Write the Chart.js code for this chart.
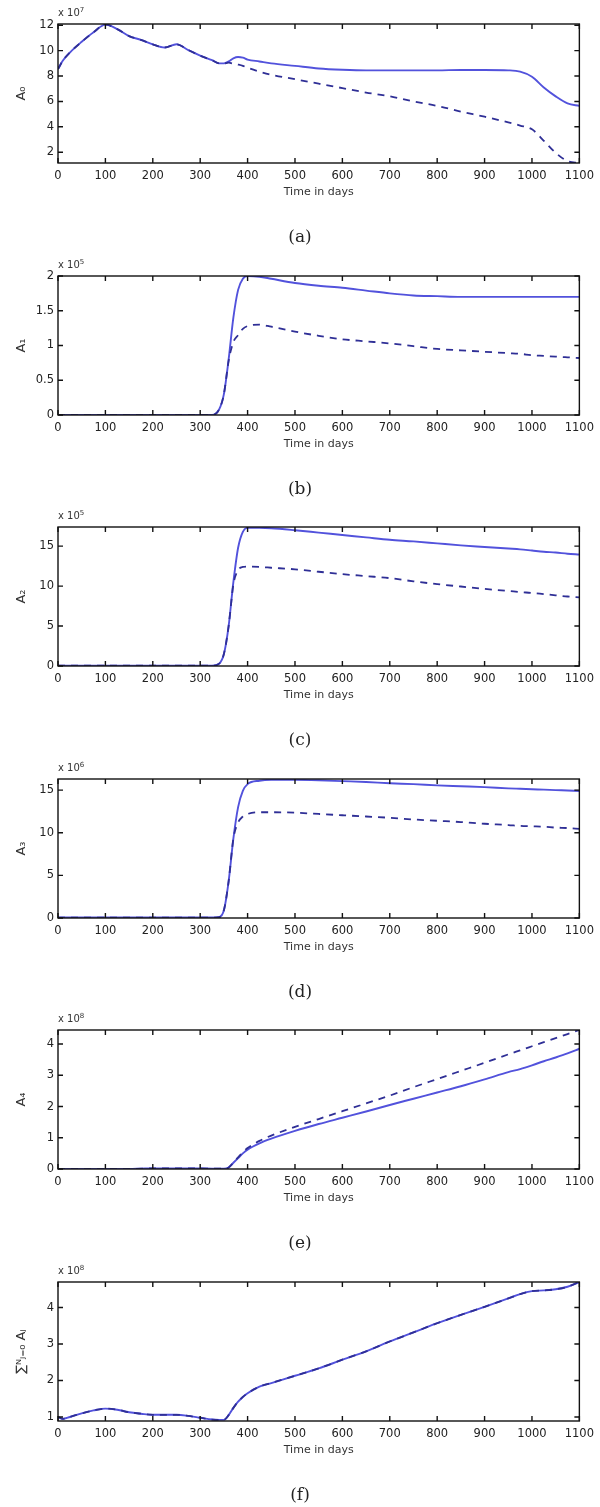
<!DOCTYPE html>
<html>
<head>
<meta charset="utf-8">
<script src="https://cdn.jsdelivr.net/npm/chart.js@4.4.1/dist/chart.umd.min.js"></script>
<style>
  body { margin: 0; background: #fff; }
  #page { position: relative; width: 600px; height: 1507px; overflow: hidden; font-family: "DejaVu Sans", sans-serif; }
  .panel { position: absolute; left: 0; width: 600px; height: 251px; }
  .panel canvas { position: absolute; left: 0; top: 0; }
  .exp { position: absolute; left: 58px; top: 6px; font-size: 10px; color: #333; }
  .exp sup { font-size: 7px; }
  .cap { position: absolute; left: 0; width: 600px; top: 226px; text-align: center;
         font-family: "DejaVu Serif", "Liberation Serif", serif; font-size: 17px; color: #222; }
</style>
</head>
<body>
<div id="page"></div>
<script>
// time axis (days), shared by every series
const days = [0,10,25,50,75,100,125,150,175,200,225,250,275,300,325,340,350,360,370,380,390,400,425,450,
  500,550,600,650,700,750,800,850,900,950,975,1000,1025,1050,1075,1100];
const xTicks = [0,100,200,300,400,500,600,700,800,900,1000,1100];

// (a) A0, x 10^7
const a0Solid = [8.55,9.2,9.85,10.7,11.45,12.05,11.7,11.15,10.85,10.5,10.25,10.5,10.05,9.6,9.25,9.0,9.0,9.15,9.4,9.5,9.45,9.3,9.15,9.0,
  8.8,8.6,8.5,8.45,8.45,8.45,8.45,8.48,8.48,8.45,8.35,7.95,7.1,6.4,5.85,5.65];
const a0Dashed = [8.55,9.2,9.85,10.7,11.45,12.05,11.7,11.15,10.85,10.5,10.25,10.5,10.05,9.6,9.25,9.0,9.0,9.05,8.98,8.9,8.8,8.65,8.35,8.1,
  7.75,7.4,7.05,6.7,6.4,6.0,5.65,5.2,4.8,4.35,4.1,3.8,2.9,1.95,1.3,1.15];
const a0Ticks = [2,4,6,8,10,12];

// (b) A1, x 10^5
const a1Solid = [0,0,0,0,0,0,0,0,0,0,0,0,0,0,0,0.08,0.3,0.8,1.4,1.8,1.96,2.0,1.99,1.96,
  1.9,1.86,1.83,1.79,1.75,1.72,1.71,1.7,1.7,1.7,1.7,1.7,1.7,1.7,1.7,1.7];
const a1Dashed = [0,0,0,0,0,0,0,0,0,0,0,0,0,0,0,0.08,0.3,0.78,1.05,1.15,1.24,1.28,1.3,1.27,
  1.2,1.14,1.09,1.06,1.03,0.99,0.95,0.93,0.91,0.89,0.88,0.86,0.85,0.84,0.83,0.82];
const a1Ticks = [0,0.5,1,1.5,2];

// (c) A2, x 10^5
const a2Solid = [0.05,0.05,0.05,0.05,0.05,0.05,0.05,0.05,0.05,0.05,0.05,0.05,0.05,0.05,0.05,0.3,1.5,5,10.5,14.8,16.8,17.3,17.3,17.25,
  17.0,16.7,16.4,16.1,15.8,15.6,15.35,15.1,14.9,14.7,14.6,14.45,14.3,14.2,14.05,13.95];
const a2Dashed = [0.05,0.05,0.05,0.05,0.05,0.05,0.05,0.05,0.05,0.05,0.05,0.05,0.05,0.05,0.05,0.3,1.5,5,10.2,12.0,12.4,12.45,12.4,12.3,
  12.1,11.8,11.5,11.25,11.0,10.6,10.25,9.95,9.65,9.4,9.25,9.15,9.0,8.85,8.7,8.6];
const a2Ticks = [0,5,10,15];

// (d) A3, x 10^6
const a3Solid = [0.05,0.05,0.05,0.05,0.05,0.05,0.05,0.05,0.05,0.05,0.05,0.05,0.05,0.05,0.05,0.1,0.9,4.3,9.3,13.0,14.9,15.7,16.1,16.2,
  16.2,16.15,16.05,15.95,15.8,15.7,15.55,15.45,15.35,15.2,15.15,15.1,15.05,15.0,14.95,14.9];
const a3Dashed = [0.05,0.05,0.05,0.05,0.05,0.05,0.05,0.05,0.05,0.05,0.05,0.05,0.05,0.05,0.05,0.1,0.9,4.3,9.3,11.2,11.9,12.2,12.4,12.4,
  12.35,12.2,12.05,11.9,11.75,11.55,11.4,11.25,11.05,10.9,10.8,10.75,10.7,10.6,10.55,10.45];
const a3Ticks = [0,5,10,15];

// (e) A4, x 10^8
const a4Solid = [0,0,0,0,0,0,0,0,0.01,0.02,0.02,0.02,0.02,0.02,0.01,0.01,0.01,0.05,0.2,0.35,0.5,0.62,0.82,0.97,
  1.22,1.44,1.64,1.84,2.05,2.25,2.45,2.65,2.87,3.1,3.2,3.32,3.45,3.57,3.7,3.85];
const a4Dashed = [0,0,0,0,0,0,0,0,0.01,0.02,0.02,0.02,0.02,0.02,0.01,0.01,0.01,0.05,0.2,0.37,0.53,0.67,0.9,1.07,
  1.35,1.6,1.85,2.1,2.35,2.62,2.88,3.14,3.4,3.67,3.8,3.93,4.06,4.19,4.32,4.45];
const a4Ticks = [0,1,2,3,4];

// (f) sum of A_j, x 10^8
const sumSolid = [1.0,0.95,1.0,1.1,1.18,1.23,1.2,1.13,1.09,1.06,1.06,1.06,1.03,0.98,0.93,0.92,0.92,1.05,1.25,1.42,1.55,1.65,1.83,1.93,
  2.13,2.33,2.57,2.8,3.07,3.32,3.57,3.8,4.02,4.25,4.37,4.45,4.47,4.5,4.57,4.7];
const sumDashed = [1.0,0.95,1.0,1.1,1.18,1.23,1.2,1.13,1.09,1.06,1.06,1.06,1.03,0.98,0.93,0.92,0.92,1.05,1.25,1.42,1.55,1.65,1.83,1.93,
  2.13,2.33,2.57,2.8,3.07,3.32,3.57,3.8,4.02,4.25,4.37,4.45,4.47,4.5,4.57,4.7];
const sumTicks = [1,2,3,4];

const panels = [
  {label: 'A₀', exp: '7', cap: '(a)', solid: a0Solid, dashed: a0Dashed, ticks: a0Ticks, min: 1.15, max: 12.1},
  {label: 'A₁', exp: '5', cap: '(b)', solid: a1Solid, dashed: a1Dashed, ticks: a1Ticks, min: 0, max: 2},
  {label: 'A₂', exp: '5', cap: '(c)', solid: a2Solid, dashed: a2Dashed, ticks: a2Ticks, min: 0, max: 17.4},
  {label: 'A₃', exp: '6', cap: '(d)', solid: a3Solid, dashed: a3Dashed, ticks: a3Ticks, min: 0, max: 16.3},
  {label: 'A₄', exp: '8', cap: '(e)', solid: a4Solid, dashed: a4Dashed, ticks: a4Ticks, min: 0, max: 4.45},
  {label: '∑ᴺⱼ₌₀ Aⱼ', exp: '8', cap: '(f)', solid: sumSolid, dashed: sumDashed, ticks: sumTicks, min: 0.89, max: 4.7}
];

// matlab-like box with inward ticks on all four sides
const boxPlugin = {
  id: 'box',
  afterDraw(chart) {
    const {ctx, chartArea: a, scales} = chart;
    ctx.save();
    ctx.strokeStyle = '#111';
    ctx.lineWidth = 1.4;
    ctx.strokeRect(a.left, a.top, a.right - a.left, a.bottom - a.top);
    ctx.beginPath();
    scales.x.ticks.forEach(t => {
      const px = scales.x.getPixelForValue(t.value);
      ctx.moveTo(px, a.bottom); ctx.lineTo(px, a.bottom - 5);
      ctx.moveTo(px, a.top); ctx.lineTo(px, a.top + 5);
    });
    scales.y.ticks.forEach(t => {
      const py = scales.y.getPixelForValue(t.value);
      ctx.moveTo(a.left, py); ctx.lineTo(a.left + 5, py);
      ctx.moveTo(a.right, py); ctx.lineTo(a.right - 5, py);
    });
    ctx.stroke();
    ctx.restore();
  }
};

const font = {family: '"DejaVu Sans", sans-serif', size: 11.5};
const plain = v => String(v);
const page = document.getElementById('page');

panels.forEach((p, i) => {
  const div = document.createElement('div');
  div.className = 'panel';
  div.style.top = Math.round(i * 251.6) + 'px';
  div.innerHTML = '<canvas width="600" height="251"></canvas>' +
    '<div class="exp">x 10<sup>' + p.exp + '</sup></div>' +
    '<div class="cap">' + p.cap + '</div>';
  page.appendChild(div);

  new Chart(div.querySelector('canvas'), {
    type: 'line',
    data: {
      datasets: [
        {
          data: days.map((d, k) => ({x: d, y: p.dashed[k]})),
          borderColor: '#2f2f96', borderWidth: 1.8, borderDash: [7, 6],
          pointRadius: 0, cubicInterpolationMode: 'monotone'
        },
        {
          data: days.map((d, k) => ({x: d, y: p.solid[k]})),
          borderColor: '#5252dc', borderWidth: 1.9,
          pointRadius: 0, cubicInterpolationMode: 'monotone'
        }
      ]
    },
    options: {
      responsive: false,
      animation: false,
      layout: {padding: {top: 24, right: 20, bottom: 52, left: 0}},
      plugins: {legend: {display: false}, tooltip: {enabled: false}},
      scales: {
        x: {
          type: 'linear', min: 0, max: 1100,
          afterBuildTicks: s => { s.ticks = xTicks.map(v => ({value: v})); },
          afterFit: s => { s.height = 36; },
          grid: {display: false, drawTicks: false},
          border: {display: false},
          ticks: {padding: 6, color: '#222', font: font, callback: plain, maxRotation: 0, autoSkip: false},
          title: {display: true, text: 'Time in days', color: '#333', font: {family: font.family, size: 11}, padding: 0}
        },
        y: {
          min: p.min, max: p.max,
          afterBuildTicks: s => { s.ticks = p.ticks.map(v => ({value: v})); },
          afterFit: s => { s.width = 58; },
          grid: {display: false, drawTicks: false},
          border: {display: false},
          ticks: {padding: 4, color: '#222', font: font, callback: plain},
          title: {display: true, text: p.label, color: '#333', font: {family: font.family, size: 13}, padding: {top: 14, bottom: 0}}
        }
      }
    },
    plugins: [boxPlugin]
  });
});
</script>
</body>
</html>
